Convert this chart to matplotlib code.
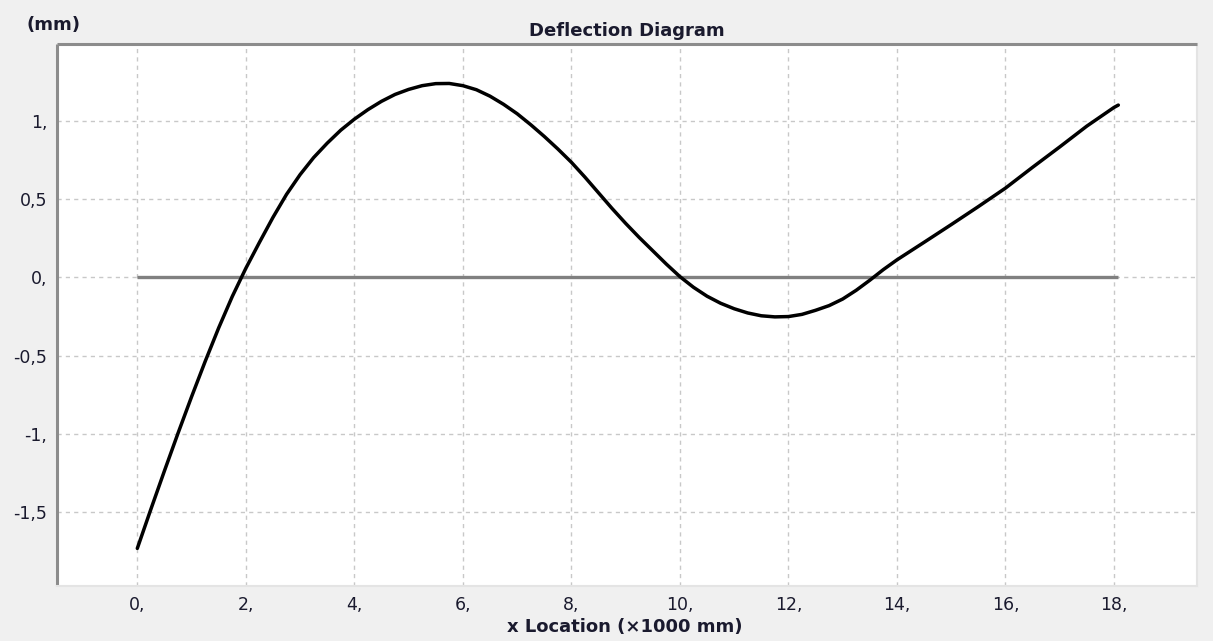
import matplotlib
matplotlib.use("Agg")
import matplotlib.pyplot as plt

# ---- data ----
x_pos = [0.0, 0.25, 0.5, 0.75, 1.0, 1.25, 1.5, 1.75, 2.0, 2.25, 2.5, 2.75,
         3.0, 3.25, 3.5, 3.75, 4.0, 4.25, 4.5, 4.75, 5.0, 5.25, 5.5, 5.75,
         6.0, 6.25, 6.5, 6.75, 7.0, 7.25, 7.5, 7.75, 8.0, 8.25, 8.5, 8.75,
         9.0, 9.25, 9.5, 9.75, 10.0, 10.25, 10.5, 10.75, 11.0, 11.25, 11.5,
         11.75, 12.0, 12.25, 12.5, 12.75, 13.0, 13.25, 13.5, 13.75, 14.0,
         14.25, 14.5, 15.0, 15.5, 16.0, 16.5, 17.0, 17.5, 18.0, 18.08]
deflection = [-1.73, -1.48, -1.235, -0.995, -0.762, -0.537, -0.322, -0.122,
              0.058, 0.223, 0.383, 0.53, 0.656, 0.765, 0.857, 0.94, 1.01,
              1.071, 1.124, 1.168, 1.200, 1.224, 1.237, 1.238, 1.224, 1.198,
              1.157, 1.105, 1.045, 0.975, 0.9, 0.82, 0.735, 0.64, 0.54,
              0.44, 0.345, 0.255, 0.17, 0.085, 0.005, -0.063, -0.12, -0.165,
              -0.2, -0.227, -0.245, -0.252, -0.25, -0.236, -0.21, -0.18,
              -0.138, -0.082, -0.018, 0.05, 0.112, 0.168, 0.224, 0.337, 0.452,
              0.57, 0.703, 0.833, 0.966, 1.085, 1.10]
baseline_x = [0.0, 18.08]
baseline_y = [0.0, 0.0]

x_ticks = [0, 2, 4, 6, 8, 10, 12, 14, 16, 18]
x_tick_labels = ["0,", "2,", "4,", "6,", "8,", "10,", "12,", "14,", "16,", "18,"]
y_ticks = [1.0, 0.5, 0.0, -0.5, -1.0, -1.5]
y_tick_labels = ["1,", "0,5", "0,", "-0,5", "-1,", "-1,5"]

title = "Deflection Diagram"
y_unit = "(mm)"
x_label = "x Location (\u00d71000 mm)"

# ---- figure ----
W, H = 1213, 641
fig = plt.figure(figsize=(W / 100, H / 100), dpi=100, facecolor="#f0f0f0")
ax = fig.add_axes([57 / W, (H - 586) / H, (1197 - 57) / W, (586 - 44) / H])
ax.set_facecolor("white")

ax.plot(baseline_x, baseline_y, color="#808080", lw=2.4, solid_capstyle="butt", zorder=3)
ax.plot(x_pos, deflection, color="black", lw=2.5, solid_capstyle="round",
        solid_joinstyle="round", zorder=4)

ax.set_xlim(-1.48, 19.53)
ax.set_ylim(-1.97, 1.49)
ax.set_xticks(x_ticks)
ax.set_xticklabels(x_tick_labels)
ax.set_yticks(y_ticks)
ax.set_yticklabels(y_tick_labels)

ax.grid(True, color="#c8c8c8", linestyle=(0, (3, 3)), lw=1.0, zorder=1)
ax.tick_params(length=0, labelsize=12.5, labelcolor="#1a1a2e")
ax.tick_params(axis="y", pad=7)
ax.tick_params(axis="x", pad=7)

for side in ["left", "top"]:
    ax.spines[side].set_color("#8c8c8c")
    ax.spines[side].set_linewidth(2.2)
    ax.spines[side].set_capstyle("butt")
for side in ["right", "bottom"]:
    ax.spines[side].set_color("#e4e4e4")
    ax.spines[side].set_linewidth(1.5)

fig.text(627 / W, 1 - 31 / H, title, ha="center", va="center",
         fontsize=13, fontweight="bold", color="#1a1a2e")
fig.text(27 / W, 1 - 25 / H, y_unit, ha="left", va="center",
         fontsize=13, fontweight="bold", color="#1a1a2e")
fig.text(625 / W, 1 - 627 / H, x_label, ha="center", va="center",
         fontsize=13, fontweight="bold", color="#1a1a2e")

fig.savefig("out.png", dpi=100, facecolor=fig.get_facecolor())
